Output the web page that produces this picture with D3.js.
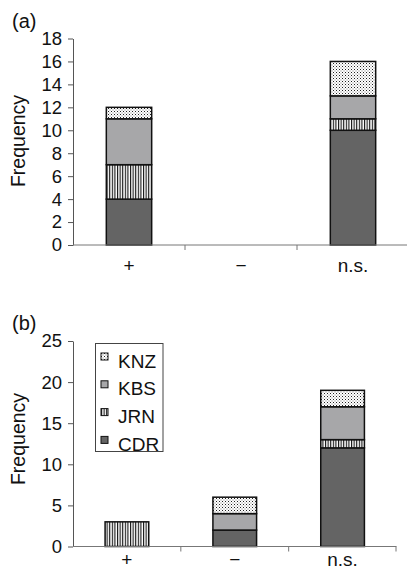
<!DOCTYPE html>
<html lang="en">
  <head>
    <meta charset="utf-8">
    <title>Frequency by site</title>
    <script src="https://cdn.jsdelivr.net/npm/d3@7/dist/d3.min.js"></script>
    <style>
      body { margin: 0; background: #fff; }
      svg text { font-family: "Liberation Sans", Arial, sans-serif; fill: #111; }
    </style>
  </head>
  <body>
    <div id="chart"></div>
    <script>
      // stacking order, bottom to top
      const sites = ["CDR", "JRN", "KBS", "KNZ"];
      const categories = ["+", "\u2212", "n.s."];

      // panel (a)
      const aCDR = [4, 0, 10];
      const aJRN = [3, 0, 1];
      const aKBS = [4, 0, 2];
      const aKNZ = [1, 0, 3];
      const aTicks = [0, 2, 4, 6, 8, 10, 12, 14, 16, 18];

      // panel (b)
      const bCDR = [0, 2, 12];
      const bJRN = [3, 0, 1];
      const bKBS = [0, 2, 4];
      const bKNZ = [0, 2, 2];
      const bTicks = [0, 5, 10, 15, 20, 25];

      const fills = {
        CDR: "#646464",
        JRN: "url(#stripes)",
        KBS: "#a7a7a9",
        KNZ: "url(#dots)"
      };

      let svg = d3.select("#chart")
          .append("svg")
          .attr("width", 407)
          .attr("height", 569);

      let defs = svg.append("defs");

      let stripes = defs.append("pattern")
          .attr("id", "stripes")
          .attr("patternUnits", "userSpaceOnUse")
          .attr("width", 2.6)
          .attr("height", 4);
      stripes.append("rect")
          .attr("width", 2.6).attr("height", 4).attr("fill", "#fff");
      stripes.append("rect")
          .attr("width", 1.1).attr("height", 4).attr("fill", "#111");

      let dots = defs.append("pattern")
          .attr("id", "dots")
          .attr("patternUnits", "userSpaceOnUse")
          .attr("width", 3)
          .attr("height", 3);
      dots.append("rect")
          .attr("width", 3).attr("height", 3).attr("fill", "#fff");
      dots.append("rect")
          .attr("x", 0).attr("y", 0).attr("width", 1).attr("height", 1)
          .attr("fill", "#222");
      dots.append("rect")
          .attr("x", 1.5).attr("y", 1.5).attr("width", 1).attr("height", 1)
          .attr("fill", "#777");

      function drawPanel(p) {
          let rows = categories.map((c, i) => ({
              cat: c,
              CDR: p.values[0][i],
              JRN: p.values[1][i],
              KBS: p.values[2][i],
              KNZ: p.values[3][i]
          }));

          let series = d3.stack().keys(sites)(rows);

          let x = d3.scaleBand()
              .domain(categories)
              .range([p.left, p.right]);

          let y = d3.scaleLinear()
              .domain([0, p.ticks[p.ticks.length - 1]])
              .range([p.bottom, p.top]);

          let barW = x.bandwidth() * 0.405;

          let g = svg.append("g");

          g.selectAll("g.layer")
              .data(series)
              .enter().append("g")
              .attr("class", "layer")
              .attr("fill", d => fills[d.key])
              .selectAll("rect")
              .data(d => d.filter(s => s[1] - s[0] > 0))
              .enter().append("rect")
              .attr("x", d => x(d.data.cat) + (x.bandwidth() - barW) / 2)
              .attr("y", d => y(d[1]))
              .attr("width", barW)
              .attr("height", d => y(d[0]) - y(d[1]))
              .attr("stroke", "#111")
              .attr("stroke-width", 1.5);

          let yAxis = d3.axisLeft(y)
              .tickValues(p.ticks)
              .tickSize(5)
              .tickPadding(6)
              .tickSizeOuter(0);

          let ya = g.append("g")
              .attr("transform", `translate(${p.left}, 0)`)
              .call(yAxis);
          ya.selectAll("text").style("font-size", "18.5px");
          ya.selectAll("line, path").attr("stroke", "#555");

          // x axis with ticks on band edges
          let xa = g.append("g");
          xa.append("line")
              .attr("x1", p.left).attr("x2", p.right)
              .attr("y1", p.bottom).attr("y2", p.bottom)
              .attr("stroke", "#777");
          xa.selectAll("line.edge")
              .data(categories.slice(1).concat(["end"]))
              .enter().append("line")
              .attr("class", "edge")
              .attr("x1", d => d === "end" ? p.right - 0.5 : x(d))
              .attr("x2", d => d === "end" ? p.right - 0.5 : x(d))
              .attr("y1", p.bottom)
              .attr("y2", p.bottom + 5)
              .attr("stroke", "#777");
          xa.selectAll("text")
              .data(categories)
              .enter().append("text")
              .attr("x", d => x(d) + x.bandwidth() / 2)
              .attr("y", p.bottom + p.labelGap)
              .attr("text-anchor", "middle")
              .style("font-size", "19px")
              .text(d => d);

          g.append("text")
              .attr("transform", `translate(24.5, ${p.titleY}) rotate(-90)`)
              .attr("text-anchor", "middle")
              .style("font-size", "19.5px")
              .text("Frequency");

          g.append("text")
              .attr("x", 12)
              .attr("y", p.top - 11)
              .style("font-size", "20px")
              .text(p.label);
      }

      drawPanel({
          label: "(a)",
          values: [aCDR, aJRN, aKBS, aKNZ],
          ticks: aTicks,
          left: 73, right: 409,
          top: 38.5, bottom: 245,
          labelGap: 26.5, titleY: 141
      });

      drawPanel({
          label: "(b)",
          values: [bCDR, bJRN, bKBS, bKNZ],
          ticks: bTicks,
          left: 73, right: 396.5,
          top: 341, bottom: 546.5,
          labelGap: 19.5, titleY: 439
      });

      // legend in panel (b)
      let legend = svg.append("g");
      legend.append("rect")
          .attr("x", 95.5).attr("y", 343.5)
          .attr("width", 67.5).attr("height", 108)
          .attr("fill", "#fff")
          .attr("stroke", "#444");

      let items = sites.slice().reverse();
      let li = legend.selectAll("g.item")
          .data(items)
          .enter().append("g")
          .attr("class", "item")
          .attr("transform", (d, i) => `translate(101, ${353 + i * 27.8})`);
      li.append("rect")
          .attr("width", 7).attr("height", 7)
          .attr("fill", d => fills[d])
          .attr("stroke", "#111");
      li.append("text")
          .attr("x", 17)
          .attr("y", 14.5)
          .style("font-size", "19px")
          .text(d => d);
    </script>
  </body>
</html>
